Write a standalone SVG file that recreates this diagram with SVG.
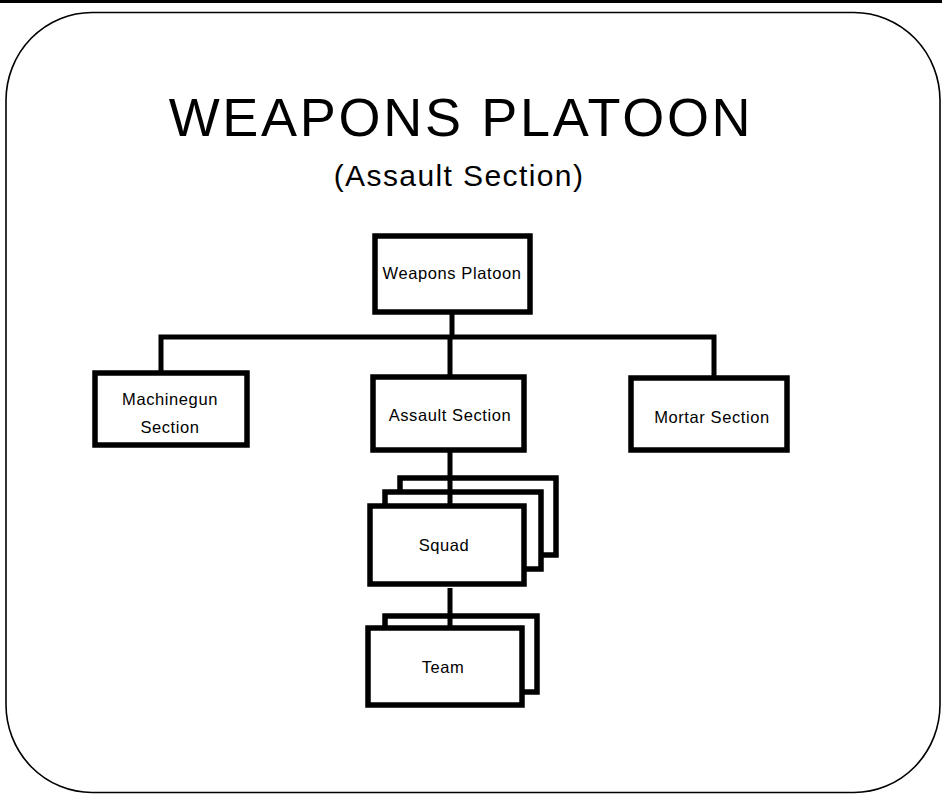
<svg xmlns="http://www.w3.org/2000/svg" width="942" height="794" viewBox="0 0 942 794">
  <style>
    .frame { fill: none; stroke: #000; stroke-width: 1.6; }
    .box { fill: #fff; stroke: #000; stroke-width: 5.5; }
    .link { fill: none; stroke: #000; stroke-width: 5; stroke-linejoin: miter; }
    .label { font-family: "Liberation Sans", Arial, sans-serif; font-size: 16.5px; letter-spacing: 0.6px; fill: #000; text-anchor: middle; }
    .title { font-family: "Liberation Sans", Arial, sans-serif; fill: #000; text-anchor: middle; }
  </style>

  <rect x="0" y="0" width="942" height="794" fill="#fff"/>
  <!-- top edge rule -->
  <rect x="0" y="0" width="942" height="3" fill="#000"/>
  <!-- slide outline -->
  <rect class="frame" x="6" y="12.5" width="934" height="780" rx="86" ry="88"/>

  <!-- headings -->
  <text class="title" x="461" y="136" font-size="54" letter-spacing="2.7">WEAPONS PLATOON</text>
  <text class="title" x="459" y="186" font-size="30" letter-spacing="1.4">(Assault Section)</text>

  <!-- stacked sheets behind Squad and Team -->
  <g id="squad-stack">
    <rect class="box" x="400" y="478" width="156" height="77"/>
    <rect class="box" x="385" y="492" width="156" height="77"/>
  </g>
  <g id="team-stack">
    <rect class="box" x="385" y="616" width="152" height="76"/>
  </g>

  <g id="weapons-platoon">
    <rect class="box" x="375" y="236" width="155" height="76"/>
    <text class="label" x="452" y="279">Weapons Platoon</text>
  </g>
  <g id="machinegun-section">
    <rect class="box" x="95" y="373" width="152" height="72"/>
    <text class="label" x="170" y="405">Machinegun</text>
    <text class="label" x="170" y="433">Section</text>
  </g>
  <g id="assault-section">
    <rect class="box" x="373" y="377" width="151" height="73"/>
    <text class="label" x="450" y="421">Assault Section</text>
  </g>
  <g id="mortar-section">
    <rect class="box" x="631" y="378" width="156" height="72"/>
    <text class="label" x="712" y="423">Mortar Section</text>
  </g>

  <!-- connectors -->
  <g id="connectors">
    <path class="link" d="M452 314 V337"/>
    <path class="link" d="M161 372 V337 H714 V377"/>
    <path class="link" d="M450 337 V376"/>
    <path class="link" d="M450 452 V505"/>
    <path class="link" d="M450 588 V627"/>
  </g>

  <g id="squad">
    <rect class="box" x="370" y="506" width="154" height="78"/>
    <text class="label" x="444" y="551">Squad</text>
  </g>
  <g id="team">
    <rect class="box" x="368" y="628" width="154" height="77"/>
    <text class="label" x="443" y="673">Team</text>
  </g>
</svg>
